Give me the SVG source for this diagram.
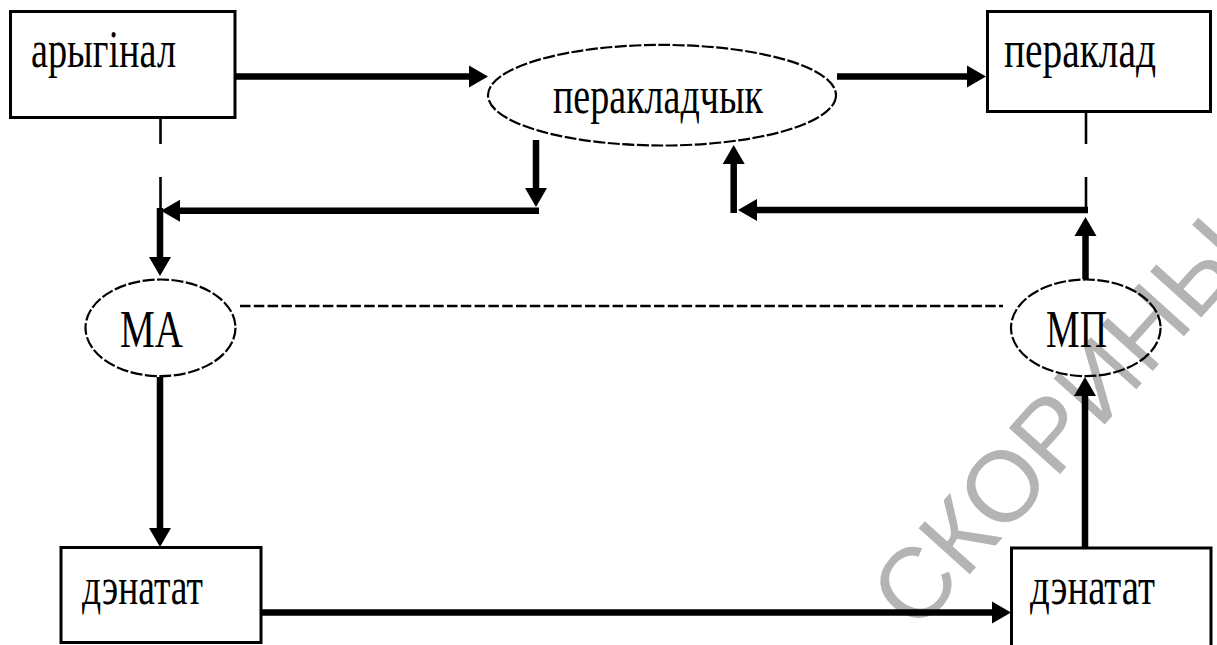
<svg xmlns="http://www.w3.org/2000/svg" width="1217" height="645" viewBox="0 0 1217 645">
<style>
.box{fill:#fff;stroke:#000;stroke-width:3}
.ell{fill:none;stroke:#000;stroke-width:2.2;stroke-dasharray:12 2.5}
.lbl{font-family:"Liberation Serif","Times New Roman",serif;font-size:53px;fill:#000}
.conn{fill:none;stroke:#000;stroke-width:6.5;marker-end:url(#ah)}
.thin{fill:none;stroke:#000;stroke-width:2.6;stroke-dasharray:34 33}
.dash{fill:none;stroke:#000;stroke-width:2.6;stroke-dasharray:10.5 3.3}
.wm{font-family:"Liberation Sans",Arial,sans-serif;font-size:100px;fill:#b4b4b4}
</style>
<defs>
<marker id="ah" markerUnits="userSpaceOnUse" markerWidth="20" markerHeight="24" refX="0" refY="11" orient="auto" overflow="visible">
<path d="M0,0 L19,11 L0,22 Z" fill="#000"/>
</marker>
</defs>
<rect width="1217" height="645" fill="#fff"/>
<text class="wm" transform="translate(916,634) rotate(-48)">СКОРИНЫ</text>
<g id="connectors">
<path class="thin" d="M160.5,110 V211"/>
<path class="thin" d="M1086,110 V211"/>
<path class="dash" d="M240,306 H1003"/>
<path class="conn" d="M232,76.5 H469"/>
<path class="conn" d="M837,76.5 H967"/>
<path class="conn" d="M536,140 V188"/>
<path class="conn" d="M539,210.7 H180"/>
<path class="conn" d="M160,208 V257"/>
<path class="conn" d="M1088,210 H757"/>
<path class="conn" d="M733.7,213 V164"/>
<path class="conn" d="M1085.5,279 V236"/>
<path class="conn" d="M160,377 V528"/>
<path class="conn" d="M257,612.5 H992"/>
<path class="conn" d="M1085,548 V396"/>
</g>
<g id="original">
<rect class="box" x="10.5" y="11.5" width="224.5" height="106"/>
<text class="lbl" x="31" y="67" textLength="145" lengthAdjust="spacingAndGlyphs">арыгінал</text>
</g>
<g id="translator">
<ellipse class="ell" cx="662" cy="95.2" rx="174" ry="50.3"/>
<text class="lbl" x="553" y="113" textLength="210" lengthAdjust="spacingAndGlyphs">перакладчык</text>
</g>
<g id="translation">
<rect class="box" x="987.5" y="11.5" width="223" height="100"/>
<text class="lbl" x="1004" y="67" textLength="152" lengthAdjust="spacingAndGlyphs">пераклад</text>
</g>
<g id="ma">
<ellipse class="ell" cx="160.5" cy="327.8" rx="75" ry="48.3"/>
<text class="lbl" x="120" y="347" textLength="63" lengthAdjust="spacingAndGlyphs">МА</text>
</g>
<g id="mp">
<ellipse class="ell" cx="1085.8" cy="327.8" rx="74.8" ry="48.3"/>
<text class="lbl" x="1046" y="347" textLength="61" lengthAdjust="spacingAndGlyphs">МП</text>
</g>
<g id="denotat-left">
<rect class="box" x="61" y="547.5" width="200" height="95"/>
<text class="lbl" x="82" y="604" textLength="121" lengthAdjust="spacingAndGlyphs">дэнатат</text>
</g>
<g id="denotat-right">
<rect class="box" x="1011.5" y="548" width="199.5" height="110"/>
<text class="lbl" x="1030" y="604" textLength="125" lengthAdjust="spacingAndGlyphs">дэнатат</text>
</g>
</svg>
